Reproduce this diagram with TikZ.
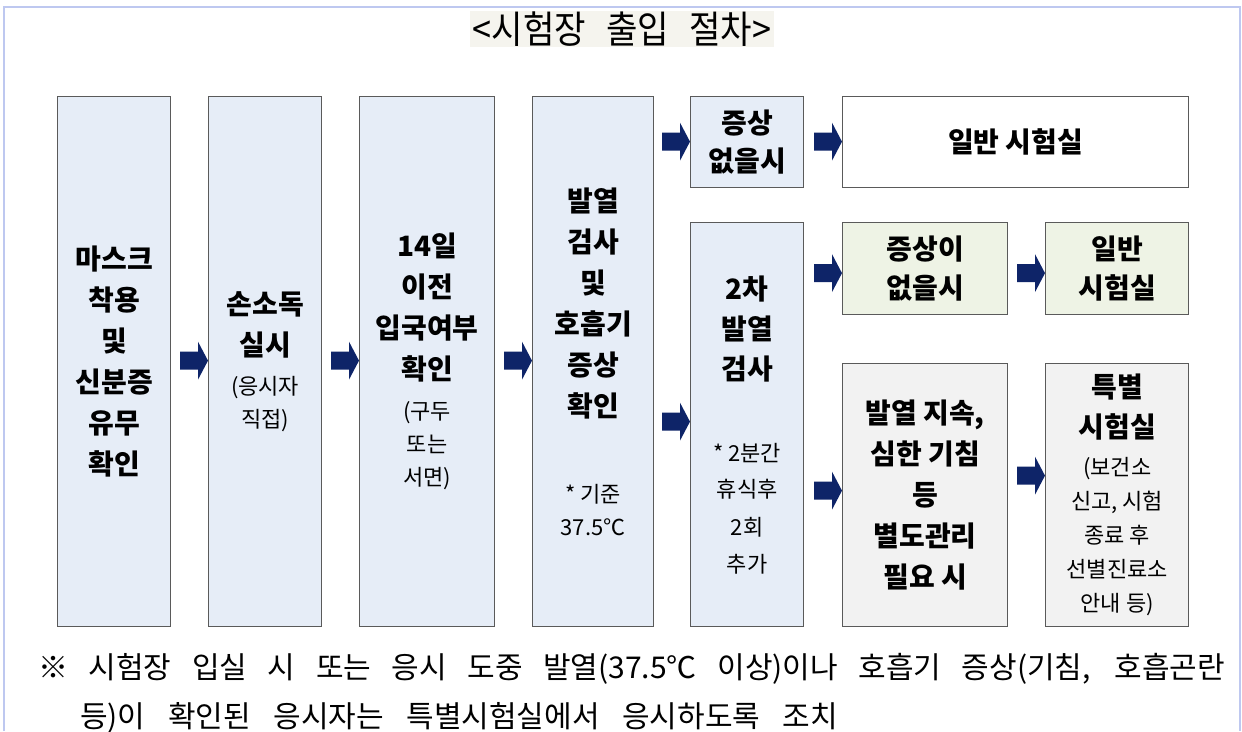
\documentclass[tikz,border=0pt]{standalone}
\usepackage{fontspec}
\newfontfamily\kr{Noto Sans CJK KR}
\newfontfamily\tf[FakeStretch=0.9]{Noto Sans CJK KR}
\newfontfamily\nf{Noto Sans CJK KR}
\definecolor{framec}{RGB}{190,200,240}
\definecolor{boxblue}{RGB}{230,237,247}
\definecolor{boxgreen}{RGB}{238,243,229}
\definecolor{boxgray}{RGB}{242,242,242}
\definecolor{titlebg}{RGB}{245,244,238}
\definecolor{arrowc}{RGB}{14,36,104}
\definecolor{bordc}{RGB}{90,90,90}
\tikzset{
  stepbox/.style={draw=bordc, line width=1.3pt, anchor=north west, inner sep=0pt,
    align=center, font=\kr\bfseries\fontsize{28}{41}\selectfont},
  bluebox/.style={stepbox, fill=boxblue},
  greenbox/.style={stepbox, fill=boxgreen},
  graybox/.style={stepbox, fill=boxgray},
  whitebox/.style={stepbox, fill=white},
}
\newcommand{\reg}{\mdseries\fontsize{22}{33}\selectfont}
% block arrow ending at the west side of a target node
\newcommand{\barrow}[2]{\fill[arrowc] ([yshift=#2pt]#1.west) -- ++(-10,-19) -- ++(0,10) -- ++(-18,0) -- ++(0,18) -- ++(18,0) -- ++(0,10) -- cycle;}
\begin{document}
\begin{tikzpicture}[x=1pt,y=-1pt]
\useasboundingbox (0,0) rectangle (1242,731);
\fill[white] (0,0) rectangle (1242,731);
\draw[framec, line width=1.5pt] (4,731) -- (4,7) -- (1240,7) -- (1240,731);

\node[fill=titlebg, inner xsep=3pt, inner ysep=1pt, font=\tf\fontsize{38}{40}\selectfont] (title) at (622,29) {<시험장\hspace{20pt}출입\hspace{20pt}절차>};

\node[bluebox, minimum width=113pt, minimum height=530pt] (b1) at (57,96)
  {마스크\\착용\\및\\신분증\\유무\\확인};
\node[bluebox, minimum width=113pt, minimum height=530pt] (b2) at (208,96)
  {손소독\\실시\\[-2pt]{\reg (응시자}\\[-8pt]{\reg 직접)}};
\node[bluebox, minimum width=135pt, minimum height=530pt] (b3) at (359,96)
  {14일\\이전\\입국여부\\확인\\[-1pt]{\reg (구두}\\[-8pt]{\reg 또는}\\[-8pt]{\reg 서면)}};
\node[bluebox, minimum width=121pt, minimum height=530pt] (b4) at (532,96)
  {발열\\검사\\및\\호흡기\\증상\\확인\\[45pt]{\reg * 기준}\\[-8pt]{\reg 37.5℃}};
\node[bluebox, minimum width=113pt, minimum height=91pt] (b5) at (690,96)
  {증상\\[-3pt]없을시};
\node[whitebox, minimum width=346pt, minimum height=91pt] (b6) at (842,96)
  {일반 시험실};
\node[bluebox, minimum width=113pt, minimum height=404pt] (b7) at (690,222)
  {2차\\[-1pt]발열\\[-1pt]검사\\[41pt]{\reg * 2분간}\\[-5pt]{\reg 휴식후}\\[-3pt]{\reg 2회}\\[-4pt]{\reg 추가}};
\node[greenbox, minimum width=165pt, minimum height=92pt] (b8) at (842,222)
  {증상이\\[-2pt]없을시};
\node[greenbox, minimum width=143pt, minimum height=92pt] (b9) at (1045,222)
  {일반\\[-2pt]시험실};
\node[graybox, minimum width=165pt, minimum height=263pt] (b10) at (842,363)
  {발열 지속,\\심한 기침\\등\\별도관리\\필요 시};
\node[graybox, minimum width=143pt, minimum height=263pt] (b11) at (1045,363)
  {특별\\[-1pt]시험실\\[-3pt]{\reg (보건소}\\[-7pt]{\reg 신고, 시험}\\[-7pt]{\reg 종료 후}\\[-7pt]{\reg 선별진료소}\\[-7pt]{\reg 안내 등)}};

\barrow{b2}{1}
\barrow{b3}{1}
\barrow{b4}{1}
\barrow{b5}{0.5}
\barrow{b6}{0.5}
\barrow{b7}{3}
\barrow{b8}{-4.5}
\barrow{b10}{4.5}
\barrow{b9}{-4.5}
\barrow{b11}{19.5}

\node[anchor=west, inner sep=0pt, font=\nf\fontsize{30}{34}\selectfont] (note1) at (38,669)
  {\makebox[1187pt][s]{※ 시험장 입실 시 또는 응시 도중 발열(37.5℃ 이상)이나 호흡기 증상(기침, 호흡곤란}};
\node[anchor=west, inner sep=0pt, font=\nf\fontsize{30}{34}\selectfont] (note2) at (80,718)
  {\makebox[758pt][s]{등)이 확인된 응시자는 특별시험실에서 응시하도록 조치}};
\end{tikzpicture}
\end{document}
